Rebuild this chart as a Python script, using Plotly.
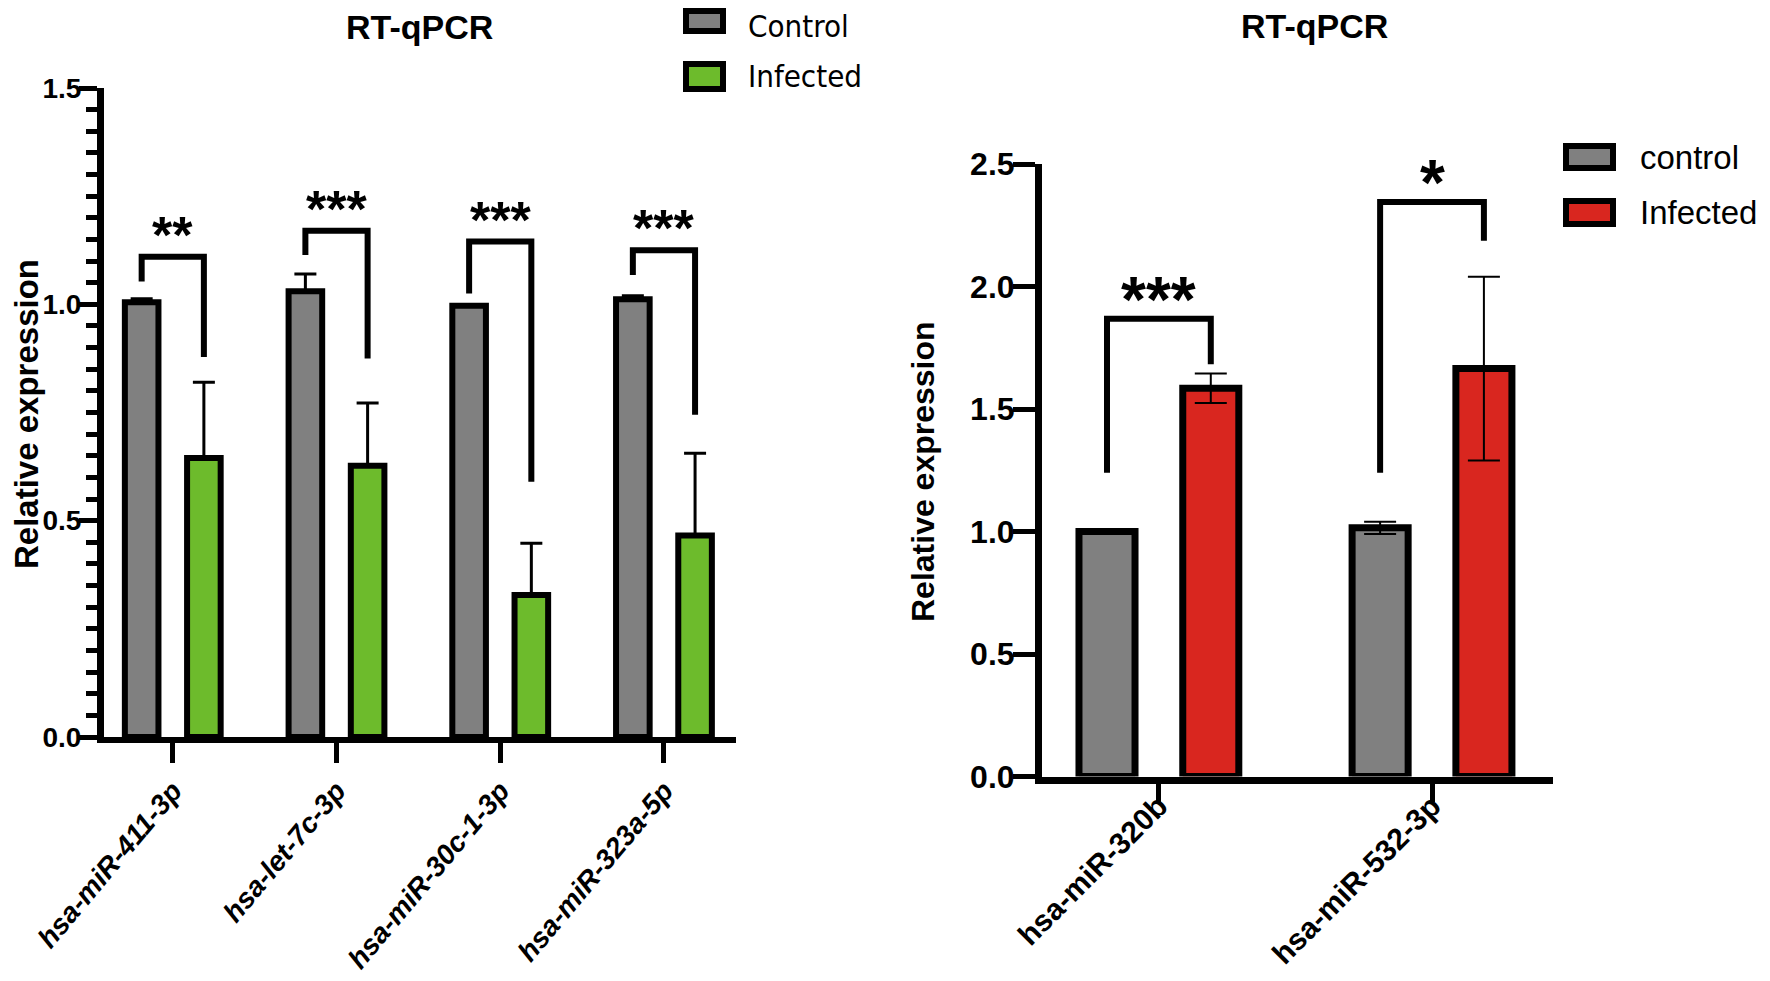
import plotly.graph_objects as go

# left panel data
mirnas_a = ['hsa-miR-411-3p', 'hsa-let-7c-3p', 'hsa-miR-30c-1-3p', 'hsa-miR-323a-5p']
control_a = [1.005, 1.03, 0.997, 1.012]
control_a_err = [0.008, 0.04, 0.0, 0.008]
infected_a = [0.645, 0.627, 0.328, 0.466]
infected_a_err = [0.175, 0.145, 0.12, 0.19]
stars_a = ['**', '***', '***', '***']
bracket_top_a = [1.11, 1.17, 1.145, 1.125]
bracket_left_a = [1.053, 1.114, 1.025, 1.068]
bracket_right_a = [0.878, 0.875, 0.59, 0.745]

# right panel data
mirnas_b = ['hsa-miR-320b', 'hsa-miR-532-3p']
control_b = [1.0, 1.015]
control_b_err = [0.0, 0.025]
infected_b = [1.585, 1.665]
infected_b_err = [0.06, 0.375]
stars_b = ['***', '*']
bracket_top_b = [1.868, 2.345]
bracket_left_b = [1.24, 1.24]
bracket_right_b = [1.683, 2.187]

legend_a = ['Control', 'Infected']
legend_b = ['control', 'Infected']

# the page body has an 8px margin, so the figure starts at (8, 8)
OX, OY = 8, 8
W, H = 1770 - 2 * OX, 981 - 2 * OY
GRAY = '#808080'
GREEN = '#6DBB2C'
RED = '#D9261F'
FONT = 'Liberation Sans, Arial, sans-serif'
NARROW = 'DejaVu Sans Condensed, Liberation Sans Narrow, Arial Narrow, sans-serif'
OFF = 0.19


def px(x):
    return (x - OX) / W


def py(y):
    return 1 - (y - OY) / H


fig = go.Figure()

# left panel bars
xa = list(range(len(mirnas_a)))
fig.add_trace(go.Bar(
    x=xa, y=control_a, name=legend_a[0], xaxis='x', yaxis='y',
    marker=dict(color=GRAY, line=dict(color='black', width=6)),
    error_y=dict(type='data', symmetric=False, array=control_a_err,
                 arrayminus=[0] * len(xa), color='black', thickness=3, width=11),
    showlegend=False))
fig.add_trace(go.Bar(
    x=xa, y=infected_a, name=legend_a[1], xaxis='x', yaxis='y',
    marker=dict(color=GREEN, line=dict(color='black', width=6)),
    error_y=dict(type='data', symmetric=False, array=infected_a_err,
                 arrayminus=[0] * len(xa), color='black', thickness=3, width=11),
    showlegend=False))

# right panel bars
xb = list(range(len(mirnas_b)))
fig.add_trace(go.Bar(
    x=xb, y=control_b, name=legend_b[0], xaxis='x2', yaxis='y2',
    marker=dict(color=GRAY, line=dict(color='black', width=7)),
    error_y=dict(type='data', array=control_b_err, color='black', thickness=2, width=16),
    showlegend=False))
fig.add_trace(go.Bar(
    x=xb, y=infected_b, name=legend_b[1], xaxis='x2', yaxis='y2',
    marker=dict(color=RED, line=dict(color='black', width=7)),
    error_y=dict(type='data', array=infected_b_err, color='black', thickness=2, width=16),
    showlegend=False))

# significance brackets
for xs, tops, lefts, rights, stars, xr, yr, fs, ys in [
        (xa, bracket_top_a, bracket_left_a, bracket_right_a, stars_a, 'x', 'y', 52, -9),
        (xb, bracket_top_b, bracket_left_b, bracket_right_b, stars_b, 'x2', 'y2', 64, -19)]:
    for i, x in enumerate(xs):
        fig.add_trace(go.Scatter(
            x=[x - OFF, x - OFF, x + OFF, x + OFF],
            y=[lefts[i], tops[i], tops[i], rights[i]],
            mode='lines', line=dict(color='black', width=6),
            xaxis=xr, yaxis=yr, showlegend=False, hoverinfo='skip'))
        fig.add_annotation(x=x, y=tops[i], xref=xr, yref=yr, text=stars[i],
                           showarrow=False, yanchor='bottom', yshift=ys,
                           font=dict(family=FONT, size=fs, color='black', weight='bold'))

axis_common = dict(showgrid=False, zeroline=False, showline=True, linecolor='black',
                   ticks='outside', tickcolor='black', automargin=False)

fig.update_layout(
    width=W, height=H,
    margin=dict(l=0, r=0, t=0, b=0, autoexpand=False),
    paper_bgcolor='white', plot_bgcolor='white',
    barmode='group', bargap=0.24, bargroupgap=0.46,
    xaxis=dict(domain=[px(104), px(736)], range=[-0.42, 3.44], anchor='y',
               tickvals=xa, ticktext=mirnas_a, tickangle=-50,
               linewidth=6, ticklen=20, tickwidth=5,
               tickfont=dict(family=FONT, size=28, color='black', weight='bold', style='italic'),
               **axis_common),
    yaxis=dict(domain=[py(737), py(88)], range=[0, 1.5], anchor='x',
               tickvals=[0, 0.5, 1.0, 1.5], tickformat='.1f',
               linewidth=7, ticklen=18, tickwidth=5, ticklabelstandoff=-8,
               minor=dict(ticks='outside', dtick=0.05, ticklen=11, tickwidth=5, tickcolor='black'),
               tickfont=dict(family=FONT, size=28, color='black', weight='bold'),
               **axis_common),
    xaxis2=dict(domain=[px(1042), px(1553)], range=[-0.428, 1.443], anchor='y2',
                tickvals=xb, ticktext=mirnas_b, tickangle=-45,
                linewidth=7, ticklen=18, tickwidth=5, ticklabelstandoff=-25,
                tickfont=dict(family=FONT, size=30, color='black', weight='bold'),
                **axis_common),
    yaxis2=dict(domain=[py(776.5), py(164)], range=[0, 2.5], anchor='x2',
                tickvals=[0, 0.5, 1.0, 1.5, 2.0, 2.5], tickformat='.1f',
                linewidth=7, ticklen=22, tickwidth=5, ticklabelstandoff=-8,
                tickfont=dict(family=FONT, size=32, color='black', weight='bold'),
                **axis_common),
)

# titles
for txt, x, y in [('RT-qPCR', 419, 27), ('RT-qPCR', 1314, 26)]:
    fig.add_annotation(x=px(x), y=py(y), xref='paper', yref='paper', text=txt,
                       showarrow=False, xanchor='center', yanchor='middle',
                       font=dict(family=FONT, size=34, color='black', weight='bold'))
for x, y, fs in [(26, 414, 33), (923, 472, 32)]:
    fig.add_annotation(x=px(x), y=py(y), xref='paper', yref='paper', text='Relative expression',
                       showarrow=False, textangle=-90, xanchor='center', yanchor='middle',
                       font=dict(family=FONT, size=fs, color='black', weight='bold'))

# legends
for names, colors, bx0, bx1, tx, rows, fam, fs in [
        (legend_a, [GRAY, GREEN], 686, 723, 746, [(11, 31), (64, 89)], NARROW, 31),
        (legend_b, [GRAY, RED], 1566, 1613, 1638, [(146, 168), (201, 224)], FONT, 33)]:
    for name, col, (y0, y1) in zip(names, colors, rows):
        fig.add_shape(type='rect', xref='paper', yref='paper',
                      x0=px(bx0), x1=px(bx1), y0=py(y1), y1=py(y0),
                      fillcolor=col, line=dict(color='black', width=6))
        fig.add_annotation(x=px(tx), y=py(max((y0 + y1) / 2, 26)), xref='paper', yref='paper',
                           text=name, showarrow=False, xanchor='left', yanchor='middle',
                           font=dict(family=fam, size=fs, color='black'))

fig.write_html('out.html')
